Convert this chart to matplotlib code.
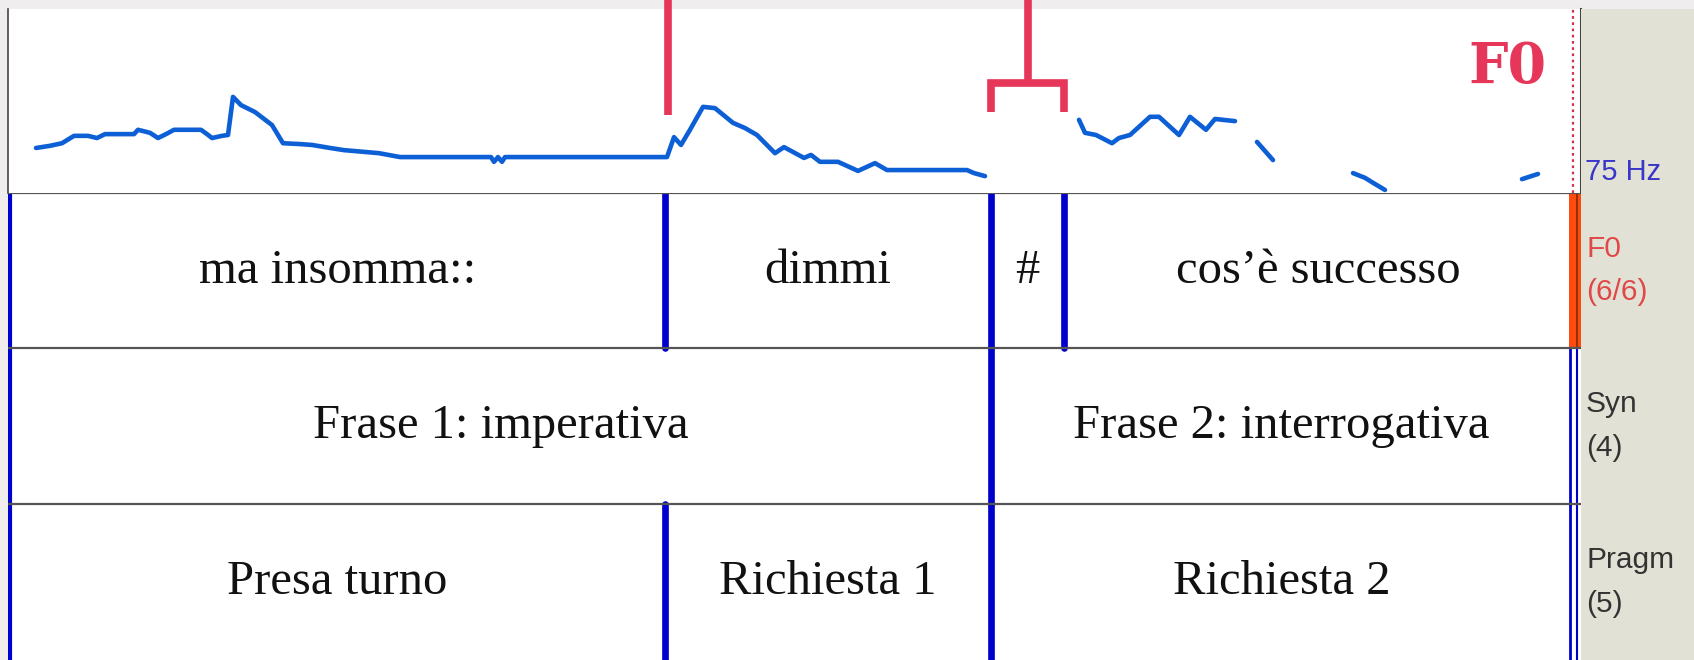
import numpy as np
import matplotlib
matplotlib.use("Agg")
import matplotlib.pyplot as plt
import matplotlib.transforms as mtransforms
from matplotlib.patches import Rectangle

# ------------------------------------------------------
# Data: F0 contour (time in s, pitch in Hz), one list per voiced stretch
# ------------------------------------------------------
f0_segments = [
    ([0.052, 0.080, 0.104, 0.128, 0.156, 0.174, 0.190, 0.248, 0.256, 0.280,
      0.296, 0.312, 0.328, 0.382, 0.394, 0.404, 0.424, 0.436, 0.446, 0.462,
      0.490, 0.524, 0.546, 0.580, 0.604, 0.640, 0.668, 0.738, 0.780, 0.962,
      0.968, 0.976, 0.984, 0.990, 1.314, 1.328, 1.342, 1.360, 1.386, 1.410,
      1.446, 1.470, 1.494, 1.530, 1.548, 1.588, 1.602, 1.620, 1.656, 1.696,
      1.730, 1.754, 1.914, 1.928, 1.950],
     [179, 184, 190, 207, 207, 202, 211, 211, 221, 214,
      202, 211, 221, 221, 211, 202, 207, 209, 297, 278,
      262, 232, 190, 188, 186, 179, 174, 167, 158, 158,
      147, 158, 147, 158, 158, 204, 186, 221, 274, 271,
      237, 225, 209, 167, 181, 156, 163, 147, 147, 126,
      144, 128, 128, 121, 114]),
    ([2.138, 2.150, 2.172, 2.204, 2.218, 2.240, 2.280, 2.298, 2.338, 2.360,
      2.392, 2.410, 2.450],
     [244, 214, 209, 190, 202, 209, 251, 251, 209, 251,
      221, 246, 241]),
    ([2.494, 2.526], [193, 151]),
    ([2.686, 2.710, 2.724, 2.750], [121, 110, 100, 82]),
    ([3.024, 3.056], [107, 119]),
]
f0_min, f0_max = 75, 500
duration = 3.124

tier_names = ["F0\n(6/6)", "Syn\n(4)", "Pragm\n(5)"]
tier_bounds = [
    [0.0, 1.310, 1.962, 2.108, duration],
    [0.0, 1.962, duration],
    [0.0, 1.310, 1.962, duration],
]
tier_labels = [
    ["ma insomma::", "dimmi", "#", "cos’è successo"],
    ["Frase 1: imperativa", "Frase 2: interrogativa"],
    ["Presa turno", "Richiesta 1", "Richiesta 2"],
]
# boundaries pointed at by the red marks
mark_line = 1.310
mark_pause = (1.962, 2.108)

# ------------------------------------------------------
# Layout (pixels)
# ------------------------------------------------------
W, H = 1694, 660
px_per_s = 500.0
x_left, x_right = 8, 1581
y_top, y_f0 = 9, 193
row_edges = [193, 348, 504, 660]

BLUE = "#0000cc"
RED = "#e6375a"
CURVE = "#0d5fd6"
PANEL_BG = "#e2e1d5"
TOP_BG = "#efeded"


def fx(px):
    return px / W


def fy(py):
    return 1 - py / H


fig = plt.figure(figsize=(W / 100, H / 100), dpi=100)
fig.patch.set_facecolor(TOP_BG)

# label column background
fig.patches.append(Rectangle((fx(x_right), 0), 1 - fx(x_right), fy(y_top),
                             transform=fig.transFigure, facecolor=PANEL_BG,
                             edgecolor="none", zorder=0))

t0 = (x_left - 10) / px_per_s
t1 = t0 + (x_right - x_left) / px_per_s

# ---------------- F0 panel ----------------
ax = fig.add_axes([fx(x_left), fy(y_f0), fx(x_right - x_left), (y_f0 - y_top) / H])
ax.set_facecolor("white")
for ts, hz in f0_segments:
    ax.plot(ts, hz, color=CURVE, lw=3.3, solid_capstyle="round", solid_joinstyle="round")
ax.axvline(duration + 0.002, color="#c8324a", lw=1.6, ls=(0, (1.2, 1.6)))
ax.set_xlim(t0, t1)
ax.set_ylim(f0_min, f0_max)
ax.set_xticks([])
ax.set_yticks([])
for side in ["top", "bottom"]:
    ax.spines[side].set_visible(False)
ax.spines["left"].set_color("#444444")
ax.spines["right"].set_color("#444444")
ax.spines["left"].set_linewidth(1.2)
ax.spines["right"].set_linewidth(1.5)

fig.text(fx(1585), fy(172), f"{f0_min} Hz", ha="left", va="center",
         fontsize=21, color="#3a36c8", family="Liberation Sans")

# red annotation marks (x in data, y in figure)
tr = mtransforms.blended_transform_factory(ax.transData, fig.transFigure)
mark_kw = dict(color=RED, lw=5.5, transform=tr, clip_on=False,
               solid_capstyle="butt", solid_joinstyle="miter", zorder=5)
ax.plot([mark_line + 0.006, mark_line + 0.006], [fy(0), fy(115)], **mark_kw)
pl, pr = mark_pause
pm = (pl + pr) / 2
ax.plot([pm, pm], [fy(0), fy(83)], **mark_kw)
ax.plot([pl, pl, pr, pr], [fy(112), fy(83), fy(83), fy(112)], **mark_kw)
fig.text(fx(1507), fy(67), "F0", ha="center", va="center", fontsize=40,
         fontweight="bold", color=RED, family="DejaVu Serif")

# ---------------- tiers ----------------
ax2 = fig.add_axes([fx(x_left), 0, fx(x_right - x_left), fy(y_f0)])
ax2.set_xlim(t0, t1)
ax2.set_ylim(H, y_f0)
ax2.set_facecolor("white")
ax2.set_xticks([])
ax2.set_yticks([])
for s in ax2.spines.values():
    s.set_visible(False)

for i, (bounds, labels) in enumerate(zip(tier_bounds, tier_labels)):
    top, bot = row_edges[i], row_edges[i + 1]
    mid = (top + bot) / 2
    for a, b, lab in zip(bounds[:-1], bounds[1:], labels):
        ax2.text((a + b) / 2, mid, lab, ha="center", va="center", fontsize=35,
                 family="Liberation Serif", color="#111111")
    for b in bounds[1:-1]:
        ax2.plot([b, b], [top, bot], color=BLUE, lw=4.8, solid_capstyle="round", zorder=4)
    # tier end markers
    if i == 0:
        ax2.add_patch(Rectangle((duration - 0.006, top), 0.024, bot - top,
                                facecolor="#ff4a10", edgecolor="none", zorder=3))
        ax2.plot([duration + 0.01, duration + 0.01], [top, bot], color="#7a3000", lw=1.2, zorder=4)
    else:
        ax2.plot([duration - 0.004, duration - 0.004], [top, bot], color=BLUE, lw=2.0, zorder=4)
        ax2.plot([duration + 0.010, duration + 0.010], [top, bot], color=BLUE, lw=1.5, zorder=4)
    fig.text(fx(1586), fy(mid), tier_names[i], ha="left", va="center", fontsize=21.5,
             family="Liberation Sans", linespacing=1.7,
             color="#e04848" if i == 0 else "#333333")

# left edge and row separators
ax2.plot([0, 0], [row_edges[0], H], color=BLUE, lw=3.0, zorder=4)
for r in row_edges[:-1]:
    ax2.axhline(r, color="#555555", lw=1.6, zorder=5)

fig.savefig("out.png", dpi=100, facecolor=fig.get_facecolor())
